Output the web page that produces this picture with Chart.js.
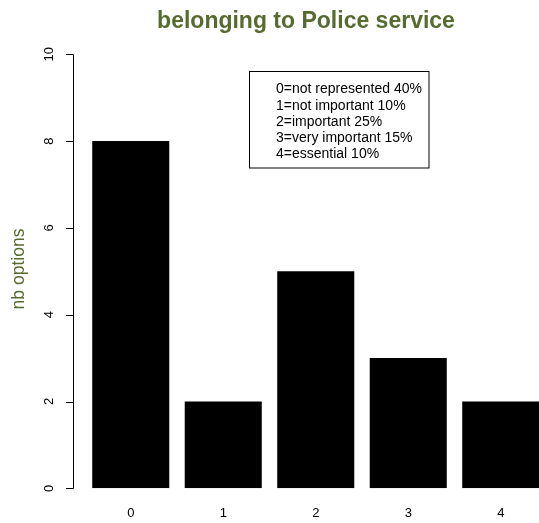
<!DOCTYPE html>
<html>
<head>
<meta charset="utf-8">
<script src="https://cdn.jsdelivr.net/npm/chart.js@4/dist/chart.umd.min.js"></script>
<style>
  html, body { margin: 0; padding: 0; background: #fff; overflow: hidden; }
  #wrap { width: 560px; height: 523px; }
</style>
</head>
<body>
<div id="wrap"><canvas id="chart" width="560" height="523"></canvas></div>
<script>
// belonging to Police service - R barplot look-alike

const TITLE = 'belonging to Police service';
const Y_TITLE = 'nb options';
const OLIVE = '#556b2f';
const FONT = '"Liberation Sans", Arial, sans-serif';

const categories = ['0', '1', '2', '3', '4'];
const counts = [8, 2, 5, 3, 2];
const yTicks = [0, 2, 4, 6, 8, 10];
const legendLines = [
  '0=not represented 40%',
  '1=not important 10%',
  '2=important 25%',
  '3=very important 15%',
  '4=essential 10%',
];

// draws the R style y axis, titles and the boxed note
const rDecor = {
  id: 'rDecor',
  afterDraw(chart) {
    const ctx = chart.ctx;
    const y = chart.scales.y;
    const axisX = 73.5;

    ctx.save();
    ctx.strokeStyle = '#000';
    ctx.lineWidth = 1;
    ctx.beginPath();
    ctx.moveTo(axisX, Math.round(y.getPixelForValue(yTicks[0])) + 0.5);
    ctx.lineTo(axisX, Math.round(y.getPixelForValue(yTicks[yTicks.length - 1])) + 0.5);
    yTicks.forEach(v => {
      const py = Math.round(y.getPixelForValue(v)) + 0.5;
      ctx.moveTo(axisX, py);
      ctx.lineTo(axisX - 7.5, py);
    });
    ctx.stroke();

    ctx.fillStyle = '#000';
    ctx.font = '13px ' + FONT;
    ctx.textAlign = 'center';
    ctx.textBaseline = 'middle';
    yTicks.forEach(v => {
      ctx.save();
      ctx.translate(49, y.getPixelForValue(v));
      ctx.rotate(-Math.PI / 2);
      ctx.fillText(String(v), 0, 0);
      ctx.restore();
    });

    // axis title
    ctx.save();
    ctx.fillStyle = OLIVE;
    ctx.font = '17.5px ' + FONT;
    ctx.translate(19, 269);
    ctx.rotate(-Math.PI / 2);
    ctx.fillText(Y_TITLE, 0, 0);
    ctx.restore();

    // main title
    ctx.fillStyle = OLIVE;
    ctx.font = 'bold 23px ' + FONT;
    ctx.fillText(TITLE, 306, 22);

    // note box
    ctx.strokeStyle = '#000';
    ctx.strokeRect(249.5, 71.5, 179.5, 96.5);
    ctx.fillStyle = '#000';
    ctx.font = '14px ' + FONT;
    ctx.textAlign = 'left';
    legendLines.forEach((line, i) => {
      ctx.fillText(line, 276, 89.5 + i * 16.25);
    });
    ctx.restore();
  }
};

const ctx = document.getElementById('chart').getContext('2d');
new Chart(ctx, {
  type: 'bar',
  data: {
    labels: categories,
    datasets: [{
      data: counts,
      backgroundColor: '#000',
      borderColor: '#000',
      borderWidth: 0,
      barPercentage: 0.833,
      categoryPercentage: 1,
    }],
  },
  options: {
    responsive: false,
    animation: false,
    devicePixelRatio: 1,
    layout: { padding: { left: 84.5, right: 13, top: 54.3, bottom: 0 } },
    plugins: {
      legend: { display: false },
      title: { display: false },
      tooltip: { enabled: false },
    },
    scales: {
      x: {
        grid: { display: false, drawTicks: false },
        border: { display: false },
        ticks: { color: '#000', font: { size: 13, family: FONT }, padding: 17 },
        afterFit(scale) { scale.height = 34.7; },
      },
      y: {
        display: false,
        min: 0,
        max: 10,
      },
    },
  },
  plugins: [rDecor],
});
</script>
</body>
</html>
